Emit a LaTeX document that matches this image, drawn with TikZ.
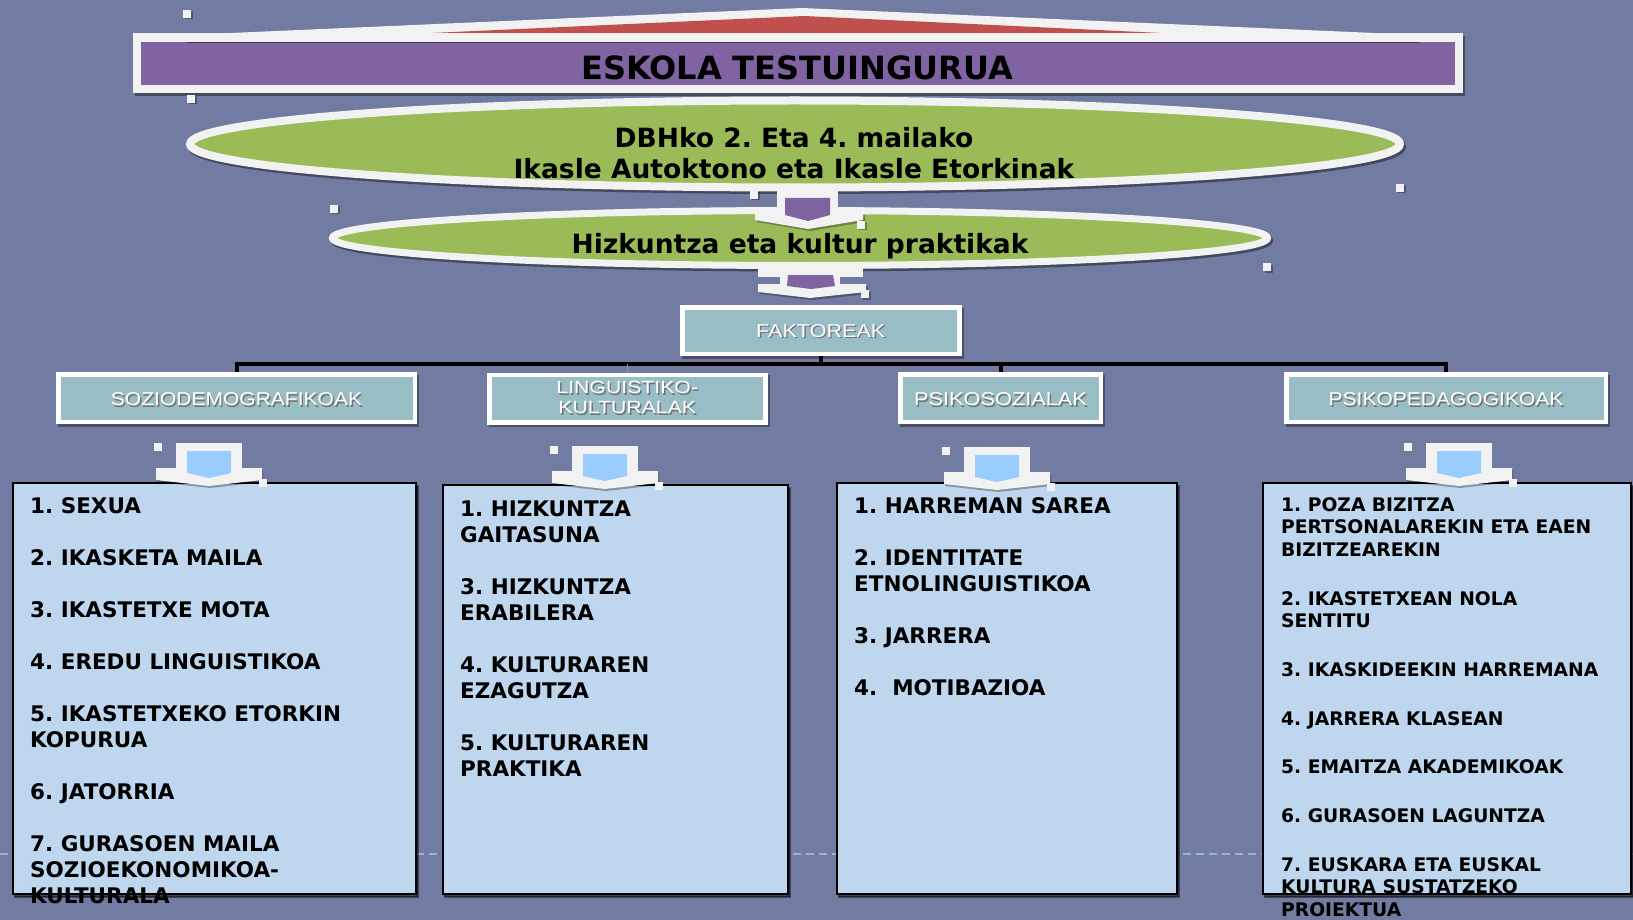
\documentclass[tikz,border=0pt]{standalone}
\usepackage{fontspec}
\setmainfont{DejaVu Sans}
\newfontfamily\arialf{Liberation Sans}
\usepackage{graphicx}
\usetikzlibrary{shapes.geometric}

\definecolor{bgc}{RGB}{114,123,161}
\definecolor{ttlpurple}{RGB}{128,100,162}
\definecolor{ttlred}{RGB}{192,80,77}
\definecolor{ellgreen}{RGB}{155,187,89}
\definecolor{offwhite}{RGB}{242,242,242}
\definecolor{tealc}{RGB}{152,189,197}
\definecolor{itemblue}{RGB}{190,214,238}
\definecolor{chevblue}{RGB}{153,204,255}
\definecolor{dashc}{RGB}{160,178,212}

\tikzset{
  shad/.style={preaction={fill=black,draw=black,opacity=#1,transform canvas={shift={(2pt,-2.5pt)}}}},
  titlebox/.style={rectangle, draw=offwhite, fill=ttlpurple, line width=8.5pt, inner sep=0pt, shad=.4},
  ellbox/.style={ellipse, draw=offwhite, fill=ellgreen, inner sep=0pt, shad=.4},
  etext/.style={anchor=base, inner sep=0pt, font=\fontsize{26.5}{31}\selectfont\bfseries},
  tealbox/.style={rectangle, draw=white, fill=tealc, line width=4.5pt, inner sep=0pt,
     minimum height=47.5pt, text=white, shad=.35, font=\arialf\fontsize{18.6}{21}\selectfont},
  captext/.style={text height=#1, text depth=0pt},
  itembox/.style={rectangle, draw=black, fill=itemblue, line width=2pt, inner sep=0pt, shad=.45},
  itemtext/.style={anchor=north west, inner sep=0pt, align=left, font=\fontsize{21.5}{26}\selectfont\bfseries},
  itemtextsmall/.style={anchor=north west, inner sep=0pt, align=left, font=\fontsize{18.7}{22.2}\selectfont\bfseries},
  busline/.style={draw=black, line width=4pt},
  thinbus/.style={draw=gray!80, line width=1pt},
}

% white label text with a soft dark shadow, stretched horizontally
\newcommand\shtext[2]{%
  \scalebox{#1}[1]{\rlap{\raisebox{-1.2pt}{\hspace{1.2pt}\textcolor{black!55}{#2}}}#2}}

\newcommand\downchev[2]{%
  \fill[black,opacity=.3] ({#1-52},{#2+27}) -- ({#1+54},{#2+27}) -- ({#1+54},{#2+39}) -- ({#1+1},{#2+45}) -- ({#1-52},{#2+39}) -- cycle;
  \fill[offwhite] ({#1-33},{#2}) rectangle ({#1+33},{#2+26});
  \fill[offwhite] ({#1-53},{#2+25}) -- ({#1+53},{#2+25}) -- ({#1+53},{#2+37}) -- ({#1},{#2+43}) -- ({#1-53},{#2+37}) -- cycle;
  \fill[chevblue] ({#1-22},{#2+8}) -- ({#1+22},{#2+8}) -- ({#1+22},{#2+30}) -- ({#1},{#2+35}) -- ({#1-22},{#2+30}) -- cycle;
  \fill[offwhite] ({#1-55},{#2}) rectangle ({#1-47},{#2+8});
  \fill[offwhite] ({#1+50},{#2+36}) rectangle ({#1+58},{#2+44});
}
\newcommand\sqdeco[2]{%
  \fill[black,opacity=.3] ({#1+1.5},{#2+1.5}) rectangle ({#1+9.5},{#2+9.5});
  \fill[offwhite] (#1,#2) rectangle ({#1+8},{#2+8});
}

\begin{document}
\frenchspacing
\begin{tikzpicture}[x=1pt,y=-1pt]
\useasboundingbox (0,0) rectangle (1633,920);
\fill[bgc] (0,0) rectangle (1633,920);
\draw[dashc, line width=2pt, dash pattern=on 8pt off 5pt] (0,854) -- (1633,854);

% top banner
\fill[offwhite] (185,35) -- (802,8) -- (1420,35) -- cycle;
\fill[ttlred] (388,35) -- (804,16) -- (1203,35) -- cycle;

% title
\node[titlebox, minimum width=1322pt, minimum height=51.5pt] (ttl) at (798,63.25) {};
\draw[ttlpurple!55!black, line width=1.5pt] (187,42.5) -- (1420,42.5);
\node[anchor=base, inner sep=0pt, font=\fontsize{32}{36}\selectfont\bfseries] (ttltxt) at (797,79.5) {ESKOLA TESTUINGURUA};

% ellipses
\node[ellbox, line width=8pt, minimum width=1210pt, minimum height=87pt] (ell1) at (795,144) {};
\node[etext] (ell1a) at (794,147.7) {DBHko 2. Eta 4. mailako};
\node[etext] (ell1b) at (794,179) {Ikasle Autoktono eta Ikasle Etorkinak};
\node[ellbox, line width=7pt, minimum width=935pt, minimum height=55pt] (ell2) at (800,238) {};
\node[etext] (ell2a) at (800,253.3) {Hizkuntza eta kultur praktikak};

% chevron between ellipses
\fill[black,opacity=.3] (757,215) -- (865,215) -- (865,222) -- (810,231) -- (757,222) -- cycle;
\fill[offwhite] (777,186) rectangle (838,214);
\fill[offwhite] (755,213) -- (863,213) -- (863,220) -- (808,229) -- (755,220) -- cycle;
\fill[ttlpurple] (785,198) -- (830,198) -- (830,215) -- (808,221) -- (785,215) -- cycle;
\sqdeco{750}{191}
\sqdeco{857}{221}

% chevron below second ellipse
\fill[black,opacity=.3] (760,286) -- (868,286) -- (868,294) -- (812,300) -- (760,294) -- cycle;
\fill[offwhite] (758,269) rectangle (863,277);
\fill[offwhite] (780,269) rectangle (840,286);
\fill[offwhite] (758,284) -- (866,284) -- (866,292) -- (810,298) -- (758,292) -- cycle;
\fill[ttlpurple] (788,275) -- (833,275) -- (835,286) -- (811,289) -- (787,286) -- cycle;
\sqdeco{861}{290}

% factor boxes
\node[tealbox, captext=13.6pt, minimum width=277pt, minimum height=46.5pt] (fak) at (820.75,330.5) {\shtext{1.16}{FAKTOREAK}};
\node[tealbox, captext=15.9pt, minimum width=356.5pt] (soz) at (236.5,398) {\shtext{1.13}{SOZIODEMOGRAFIKOAK}};
\node[tealbox, minimum width=276pt, align=center, font=\arialf\fontsize{17.7}{20}\selectfont] (lin) at (627.25,398.5) {\shtext{1.2}{LINGUISTIKO-}\\\shtext{1.2}{KULTURALAK}};
\node[tealbox, captext=15.9pt, minimum width=200.5pt] (psz) at (1000.5,398) {\shtext{1.17}{PSIKOSOZIALAK}};
\node[tealbox, captext=15.9pt, minimum width=319.5pt] (psp) at (1446,398) {\shtext{1.13}{PSIKOPEDAGOGIKOAK}};

% connectors
\coordinate (bus) at (820.75,363.5);
\draw[busline] (soz.north) |- (bus) -| (psp.north);
\draw[busline] (fak.south) -- (fak.south |- bus);
\draw[busline] (psz.north) -- (psz.north |- bus);
\draw[thinbus] (lin.north) -- (lin.north |- bus);

% content boxes
\node[itembox, minimum width=403pt, minimum height=411pt] (sozbox) at (214.5,688.5) {};
\node[itembox, minimum width=345pt, minimum height=409pt] (linbox) at (615.5,689.5) {};
\node[itembox, minimum width=340pt, minimum height=411pt] (pszbox) at (1007,688.5) {};
\node[itembox, minimum width=368pt, minimum height=411pt] (pspbox) at (1447,688.5) {};

\node[itemtext] (soztxt) at (30,497.2) {1. SEXUA\\[26pt]2. IKASKETA MAILA\\[26pt]3. IKASTETXE MOTA\\[26pt]4. EREDU LINGUISTIKOA\\[26pt]5. IKASTETXEKO ETORKIN\\KOPURUA\\[26pt]6. JATORRIA\\[26pt]7. GURASOEN MAILA\\SOZIOEKONOMIKOA-\\KULTURALA};
\node[itemtext] (lintxt) at (460,500.3) {1. HIZKUNTZA\\GAITASUNA\\[26pt]3. HIZKUNTZA\\ERABILERA\\[26pt]4. KULTURAREN\\EZAGUTZA\\[26pt]5. KULTURAREN\\PRAKTIKA};
\node[itemtext] (psztxt) at (854,497.2) {1. HARREMAN SAREA\\[26pt]2. IDENTITATE\\ETNOLINGUISTIKOA\\[26pt]3. JARRERA\\[26pt]4.\ \ MOTIBAZIOA};
\node[itemtextsmall] (psptxt) at (1281,497.7) {1. POZA BIZITZA\\PERTSONALAREKIN ETA EAEN\\BIZITZEAREKIN\\[26.7pt]2. IKASTETXEAN NOLA\\SENTITU\\[26.7pt]3. IKASKIDEEKIN HARREMANA\\[26.7pt]4. JARRERA KLASEAN\\[26.7pt]5. EMAITZA AKADEMIKOAK\\[26.7pt]6. GURASOEN LAGUNTZA\\[26.7pt]7. EUSKARA ETA EUSKAL\\KULTURA SUSTATZEKO\\PROIEKTUA};

% chevrons above content boxes
\downchev{209}{443}
\downchev{605}{446}
\downchev{997}{447}
\downchev{1459}{443}

% decorative squares
\sqdeco{183}{10}
\sqdeco{187}{95}
\sqdeco{330}{205}
\sqdeco{1396}{184}
\sqdeco{1263}{263}
\end{tikzpicture}
\end{document}
